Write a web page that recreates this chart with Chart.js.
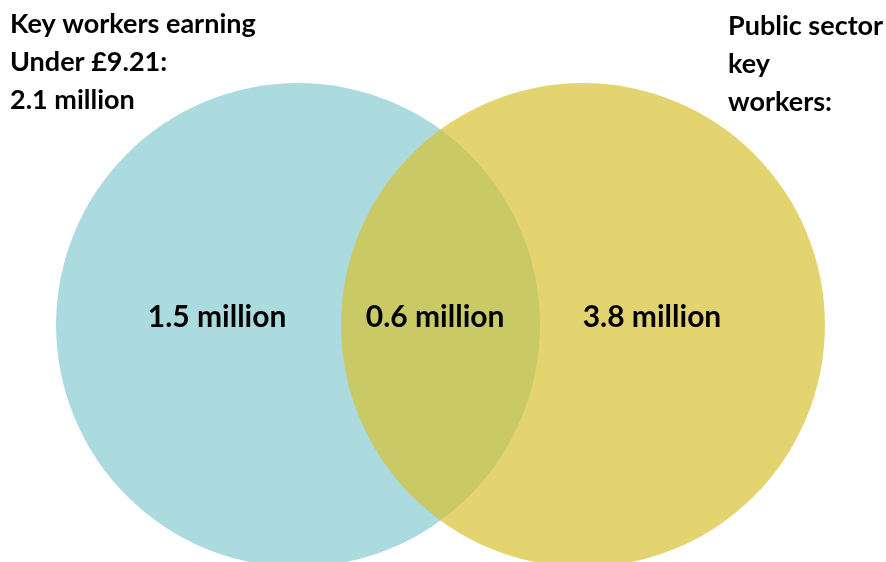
<!DOCTYPE html>
<html>
<head>
<meta charset="utf-8">
<script src="https://cdn.jsdelivr.net/npm/chart.js@4.4.1/dist/chart.umd.min.js"></script>
<style>
  html, body { margin: 0; padding: 0; background: #fff; }
  #wrap { width: 886px; height: 562px; }
</style>
</head>
<body>
<div id="wrap"><canvas id="venn" width="886" height="562"></canvas></div>
<script>
'use strict'
//////////////////
// Data
//////////////////
const setNames = ['Key workers earning under £9.21', 'Public sector key workers'];
const regionLabels = ['1.5 million', '0.6 million', '3.8 million'];
const leftTitle = ['Key workers earning', 'Under £9.21:', '2.1 million'];
const rightTitle = ['Public sector', 'key', 'workers:'];

// circle centres in venn units (distance between centres = 1)
const circleX = [0, 1];
const circleY = [0, 0];
const circleR = 0.849;

//////////////////
// Layout
//////////////////
const labelPosX = [-0.284, 0.481, 1.242];
const labelPosY = 0.028;
const fontFamily = 'Lato, "Open Sans", sans-serif';

// circle radius in pixels, taken from the x scale
function radiusPx(chart) {
  const s = chart.scales.x;
  if (!s) return 0;
  return Math.abs(s.getPixelForValue(circleR) - s.getPixelForValue(0));
}

const textPlugin = {
  id: 'vennText',
  afterDatasetsDraw(chart) {
    const ctx = chart.ctx;
    const xs = chart.scales.x;
    const ys = chart.scales.y;
    ctx.save();
    ctx.fillStyle = '#000';

    // region values
    ctx.font = 'bold 30px ' + fontFamily;
    ctx.textAlign = 'center';
    ctx.textBaseline = 'middle';
    regionLabels.forEach((txt, i) => {
      ctx.fillText(txt, xs.getPixelForValue(labelPosX[i]), ys.getPixelForValue(labelPosY));
    });

    // corner titles
    ctx.font = 'bold 27px ' + fontFamily;
    ctx.textAlign = 'left';
    ctx.textBaseline = 'alphabetic';
    leftTitle.forEach((txt, i) => ctx.fillText(txt, 10, 33 + i * 38));
    rightTitle.forEach((txt, i) => ctx.fillText(txt, 728, 35 + i * 38));
    ctx.restore();
  }
};

const data = {
  datasets: [
    {
      label: setNames[0],
      data: [{x: circleX[0], y: circleY[0]}],
      backgroundColor: '#acdbdf',
      borderWidth: 0,
      pointRadius: (c) => radiusPx(c.chart),
      order: 1,
      clip: false
    },
    {
      label: setNames[1],
      data: [{x: circleX[1], y: circleY[1]}],
      backgroundColor: 'rgba(215,192,44,0.68)',
      borderWidth: 0,
      pointRadius: (c) => radiusPx(c.chart),
      order: 0,
      clip: false
    }
  ]
};

const config = {
  type: 'scatter',
  data: data,
  options: {
    responsive: false,
    animation: false,
    events: [],
    layout: { padding: 0 },
    plugins: { legend: { display: false }, tooltip: { enabled: false } },
    scales: {
      x: { type: 'linear', display: false, min: -298 / 285, max: 588 / 285 },
      y: { type: 'linear', display: false, min: -237 / 285, max: 325 / 285 }
    }
  },
  plugins: [textPlugin]
};

const vennChart = new Chart(document.getElementById('venn'), config);
</script>
</body>
</html>
